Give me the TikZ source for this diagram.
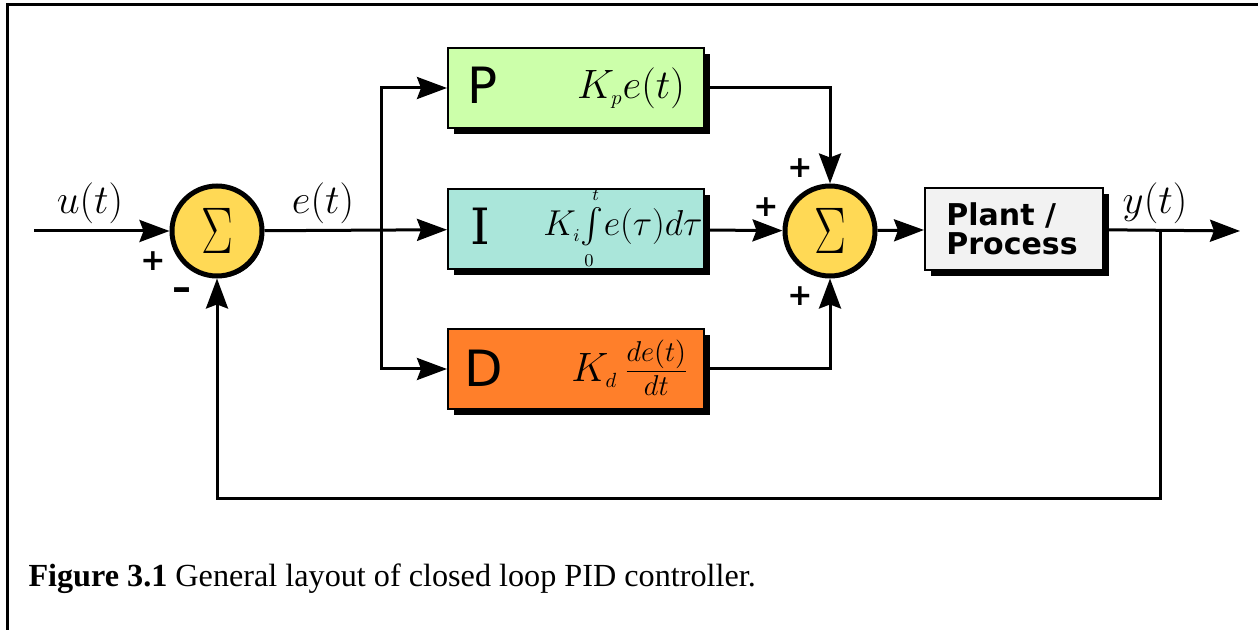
\RequirePackage{fix-cm}
\documentclass[tikz,border=0pt]{standalone}
\usepackage{exscale}
\usepackage{fontspec}
\setmainfont{Liberation Serif}
\newfontfamily\blocksans{DejaVu Sans}
\newfontfamily\blockserif{DejaVu Serif}
\usepackage{graphicx}
\usepackage{tikz}
\usetikzlibrary{arrows,arrows.meta}
\usetikzlibrary{calc}
\usetikzlibrary{shadows}
\definecolor{sumgelb}{RGB}{255,217,85}
\definecolor{pgruen}{RGB}{204,255,170}
\definecolor{ituerkis}{RGB}{170,230,218}
\definecolor{dorange}{RGB}{255,127,42}
\definecolor{anlage}{RGB}{242,242,242}

\begin{document}
\begin{tikzpicture}[x=0.5pt,y=-0.5pt,line width=1.5pt,
	pfeil/.style={-{Stealth[length=15pt,width=11pt,inset=2pt]}},
	summe/.style={draw,circle,line width=2.5pt,fill=sumgelb,minimum size=45pt,inner sep=0pt,
		drop shadow={shadow xshift=1pt,shadow yshift=-1pt,fill=black,opacity=1}},
	block/.style={draw,line width=1pt,minimum width=128pt,minimum height=40pt,inner sep=0pt,
		drop shadow={shadow xshift=3pt,shadow yshift=-3pt,fill=black,opacity=1}},
	buchstabe/.style={font=\blocksans\fontsize{25}{25}\selectfont},
	formel/.style={font=\fontsize{20.5}{21}\selectfont},
	zeichen/.style={font=\blocksans\bfseries\fontsize{15}{15}\selectfont}]
	\useasboundingbox (0,0) rectangle (1258,630);
	\draw (7,630) -- (7,5) -- (1258,5);

	\node[summe] (S1) at (217,231) {\scalebox{0.72}[1]{\fontsize{33}{33}\selectfont$\Sigma$}};
	\node[summe] (S2) at (830,231) {\scalebox{0.72}[1]{\fontsize{33}{33}\selectfont$\Sigma$}};

	\node[block,fill=pgruen] (P) at (576,88) {};
	\node[block,fill=ituerkis] (I) at (576,229) {};
	\node[block,fill=dorange] (D) at (576,369) {};
	\node[block,fill=anlage,minimum width=89pt,minimum height=41pt] (G) at (1014,229) {};

	\node[buchstabe] (Pb) at (483,85) {P};
	\node[buchstabe,font=\blockserif\fontsize{25}{25}\selectfont] (Ib) at (480,226) {I};
	\node[buchstabe] (Db) at (484,368) {D};
	\node[formel] (Pf) at (631,88) {$K_{\scriptscriptstyle p}e(t)$};
	\node[formel,font=\fontsize{18}{19}\selectfont] (If) at (623,228) {$K_{\scriptscriptstyle i}\!\int\limits_{\scriptscriptstyle 0}^{\scriptscriptstyle t}\!e(\tau)d\tau$};
	\node[formel] (Df) at (630,368) {$K_{\scriptscriptstyle d}\,\frac{de(t)}{dt}$};
	\node[align=left,font=\blocksans\bfseries\fontsize{15}{14.5}\selectfont] (Gt) at (1012,229) {Plant /\\Process};

	\node[formel] (u) at (90,203) {$u(t)$};
	\node[formel] (e) at (323,203) {$e(t)$};
	\node[formel] (y) at (1155,203) {$y(t)$};
	\node[zeichen] (S1p) at (153,261) {+};
	\node[zeichen,font=\blocksans\bfseries\fontsize{19}{19}\selectfont] (S1m) at (182,294) {–};
	\node[zeichen] (S2a) at (800,168) {+};
	\node[zeichen] (S2b) at (766,207) {+};
	\node[zeichen] (S2c) at (800,296) {+};

	\coordinate (ein) at (34,231);
	\coordinate (verz) at (381,231);
	\coordinate (aus) at (1240,231);
	\coordinate (rueck) at (1160,231);

	\draw[pfeil] (ein) -- (S1);
	\draw[pfeil] (S1) -- (I);
	\draw[pfeil] (verz) |- (P);
	\draw[pfeil] (verz) |- (D);
	\draw[pfeil] (P) -| (S2);
	\draw[pfeil] (I) -- (S2);
	\draw[pfeil] (D) -| (S2);
	\draw[pfeil] (S2) -- (G);
	\draw[pfeil] (G) -- (aus);
	\draw[pfeil] (rueck) -- ++(0,267) -| (S1);

	\node[anchor=base west,inner sep=0pt,font=\fontsize{16.1}{18}\selectfont] (cap) at (27,586) {\textbf{Figure 3.1} General layout of closed loop PID controller.};
\end{tikzpicture}
\end{document}
